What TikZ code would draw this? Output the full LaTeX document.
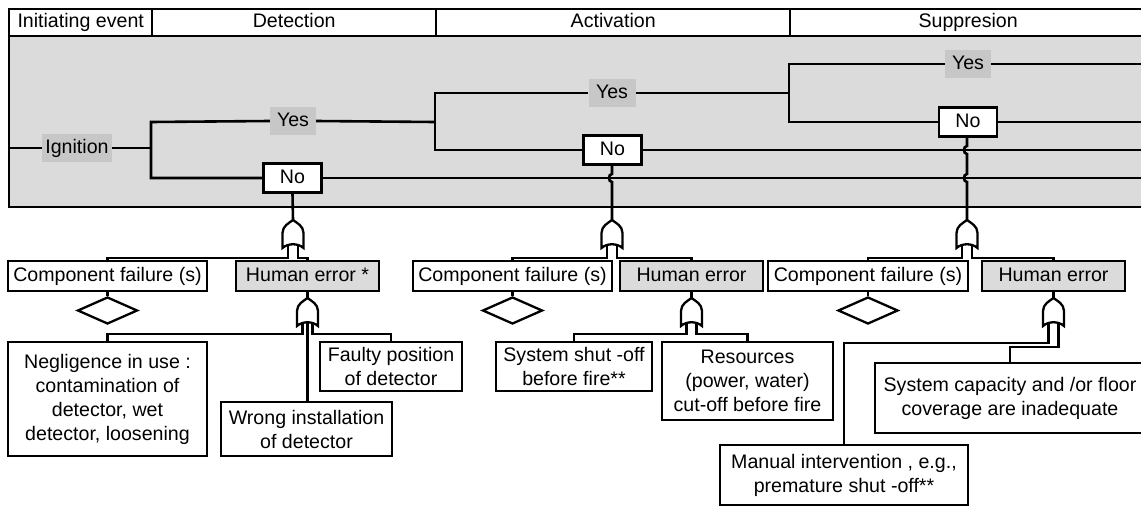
\documentclass[tikz,border=0pt]{standalone}
\usepackage{fontspec}
\setmainfont{Liberation Sans}
\usetikzlibrary{shapes.geometric}
\definecolor{bggray}{gray}{0.86}
\definecolor{lblgray}{gray}{0.78}
\definecolor{hegray}{gray}{0.86}
\newcommand\diagfont{\fontsize{19.6}{24}\selectfont}
\newcommand\gateshape[2]{%
  \draw[gateline, fill=white] (#1,#2) .. controls (#1-4,#2+3) and (#1-10.5,#2+6) .. (#1-10.5,#2+13)
    -- (#1-10.5,#2+28) .. controls (#1-5,#2+23) and (#1+5,#2+23) .. (#1+10.5,#2+28)
    -- (#1+10.5,#2+13) .. controls (#1+10.5,#2+6) and (#1+4,#2+3) .. (#1,#2) -- cycle;}
\newcommand\gatecoords[3]{%
  \coordinate (#1top) at (#2,#3);
  \coordinate (#1l) at (#2-5,#3+24);
  \coordinate (#1r) at (#2+5,#3+24);
  \coordinate (#1c) at (#2,#3+24);}
\begin{document}
\begin{tikzpicture}[x=1pt,y=-1pt,
  font=\diagfont,
  tree/.style={line width=2.6pt},
  conn/.style={line width=2.3pt},
  gateline/.style={line width=2.3pt, line join=miter},
  hdr/.style={draw, line width=2.4pt, fill=white, minimum height=27pt, inner sep=0pt, anchor=north west, text height=14pt, text depth=4pt},
  lbl/.style={fill=lblgray, inner sep=0pt, minimum height=28pt, text height=14pt, text depth=4pt},
  nobox/.style={draw, fill=white, line width=2.4pt, inner sep=0pt, minimum width=58pt, minimum height=29pt, text height=14pt, text depth=4pt},
  box/.style={draw, fill=white, line width=2.3pt, inner sep=0pt},
  onebox/.style={box, minimum height=30pt, text height=14pt, text depth=4pt},
  hebox/.style={onebox, fill=hegray},
  dia/.style={diamond, draw, line width=2.3pt, fill=white, minimum width=60pt, minimum height=27pt, inner sep=0pt}
]
\useasboundingbox (0,0) rectangle (1141,506);

% panel and header
\node[draw, fill=bggray, line width=2.4pt, minimum width=1137pt, minimum height=171pt, anchor=north west, inner sep=0pt] (panel) at (8,35) {};
\node[hdr, minimum width=143pt] (h1) at (8,8) {Initiating event};
\node[hdr, minimum width=284pt] (h2) at (151,8) {Detection};
\node[hdr, minimum width=354pt] (h3) at (435,8) {Activation};
\node[hdr, minimum width=356pt] (h4) at (789,8) {Suppresion};

% event tree
\node[lbl, minimum width=70pt] (ign) at (77,148) {Ignition};
\node[lbl, minimum width=46pt] (yes1) at (293,121) {Yes};
\node[nobox] (no1) at (292.5,178) {No};
\node[lbl, minimum width=47pt] (yes2) at (612,93) {Yes};
\node[nobox] (no2) at (612.5,150) {No};
\node[lbl, minimum width=46pt] (yes3) at (968,64) {Yes};
\node[nobox] (no3) at (968,122) {No};

\coordinate (s0) at (8,148);
\coordinate (b1) at (151,148);
\coordinate (b1u) at (151,122);
\coordinate (b1d) at (151,178);
\coordinate (b2u) at (435,93);
\coordinate (b2d) at (435,150);
\coordinate (b3u) at (789,64);
\coordinate (b3d) at (789,122);
\coordinate (e1) at (1145,178);
\coordinate (e2) at (1145,150);
\coordinate (e3) at (1145,64);
\coordinate (e4) at (1145,122);

\draw[tree] (s0) -- (ign.west);
\draw[tree] (ign.east) -- (b1);
\draw[tree] (yes1.west) -- (b1u) -- (b1d) -- (no1.west);
\draw[tree] (no1.east) -- (e1);
\draw[tree] (yes1.east) -- (435,122);
\draw[tree] (yes2.west) -- (b2u) -- (b2d) -- (no2.west);
\draw[tree] (no2.east) -- (e2);
\draw[tree] (yes2.east) -- (789,93);
\draw[tree] (yes3.west) -- (b3u) -- (b3d) -- (no3.west);
\draw[tree] (yes3.east) -- (e3);
\draw[tree] (no3.east) -- (e4);

% gates (coordinates)
\gatecoords{ga}{293}{220}
\gatecoords{gb}{612}{220}
\gatecoords{gc}{967}{220}
\gatecoords{gd}{307.5}{298}
\gatecoords{ge}{691.5}{298}
\gatecoords{gf}{1053.5}{298}

% verticals from No boxes
\draw[tree] (no1.south) -- (gatop);
\draw[tree] (612,164) -- (612,174) .. controls (608,174) and (608,182) .. (612,182) -- (gbtop);
\draw[tree] (967,137) -- (967,146) .. controls (963,146) and (963,154) .. (967,154)
  -- (967,174) .. controls (963,174) and (963,182) .. (967,182) -- (gctop);

% second level boxes
\node[onebox, minimum width=199pt] (cf1) at (107.5,276) {Component failure (s)};
\node[hebox, minimum width=143pt] (he1) at (307.5,276) {Human error *};
\node[onebox, minimum width=199pt] (cf2) at (512.5,276) {Component failure (s)};
\node[hebox, minimum width=143pt] (he2) at (691.5,276) {Human error};
\node[onebox, minimum width=200pt] (cf3) at (868,276) {Component failure (s)};
\node[hebox, minimum width=143pt] (he3) at (1053.5,276) {Human error};

% diamonds
\node[dia] (d1) at (107.5,310.5) {};
\node[dia] (d2) at (512.5,310.5) {};
\node[dia] (d3) at (868,310.5) {};
\draw[conn] (cf1.south) -- (d1.north);
\draw[conn] (cf2.south) -- (d2.north);
\draw[conn] (cf3.south) -- (d3.north);

% third level boxes
\node[box, minimum width=199pt, minimum height=114pt, align=center] (neg) at (107.5,399) {Negligence in use :\\contamination of\\detector, wet\\detector, loosening};
\node[box, minimum width=142pt, minimum height=49pt, align=center] (fau) at (391,366.5) {Faulty position\\of detector};
\node[box, minimum width=171pt, minimum height=54pt, align=center] (wro) at (306.5,429) {Wrong installation\\of detector};
\node[box, minimum width=156pt, minimum height=49pt, align=center] (shu) at (574,366.5) {System shut -off\\before fire**};
\node[box, minimum width=171pt, minimum height=78pt, align=center] (res) at (747.5,381) {Resources\\(power, water)\\cut-off before fire};
\node[box, minimum width=248pt, minimum height=60pt, align=center] (man) at (844,475) {Manual intervention , e.g.,\\premature shut -off**};
\node[box, minimum width=270pt, minimum height=70pt, align=center] (cap) at (1010,398) {System capacity and /or floor\\coverage are inadequate};

% gate legs
\draw[conn] (gal) -- ++(0,14) -| (cf1.north);
\draw[conn] (gar) -- ++(0,14) -| (he1.north);
\draw[conn] (gbl) -- ++(0,14) -| (cf2.north);
\draw[conn] (gbr) -- ++(0,14) -| (he2.north);
\draw[conn] (gcl) -- ++(0,14) -| (cf3.north);
\draw[conn] (gcr) -- ++(0,14) -| (he3.north);
\draw[conn] (he1.south) -- (gdtop);
\draw[conn] (he2.south) -- (getop);
\draw[conn] (he3.south) -- (gftop);
\draw[conn] (gdl) -- ++(0,12) -| (neg.north);
\draw[conn] (gdc) -- (gdc |- wro.north);
\draw[conn] (gdr) -- ++(0,12) -| (fau.north);
\draw[conn] (gel) -- ++(0,12) -| (shu.north);
\draw[conn] (ger) -- ++(0,12) -| (res.north);
\draw[conn] (gfl) -- ++(0,21) -| (man.north);
\draw[conn] (gfr) -- ++(0,25) -| (cap.north);

% gate shapes
\gateshape{293}{220}
\gateshape{612}{220}
\gateshape{967}{220}
\gateshape{307.5}{298}
\gateshape{691.5}{298}
\gateshape{1053.5}{298}
\end{tikzpicture}
\end{document}
